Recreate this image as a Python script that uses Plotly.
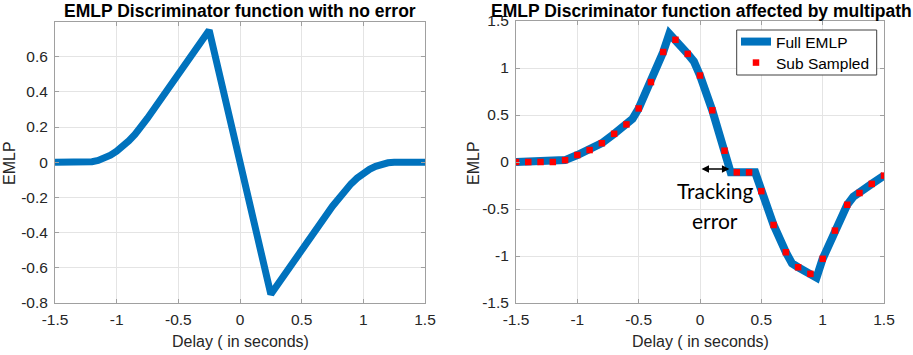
import plotly.graph_objects as go

# ---------------- data ----------------
# Left panel: discriminator with no error
delay_clean = [-1.5, -1.25, -1.2, -1.15, -1.1, -1.05, -1.0, -0.95, -0.9, -0.85, -0.8, -0.75,
               -0.25, 0.25, 0.75, 0.8, 0.85, 0.9, 0.95, 1.0, 1.05, 1.1, 1.15, 1.2, 1.25, 1.5]
emlp_clean = [0.0, 0.0, 0.003, 0.01, 0.023, 0.04, 0.063, 0.09, 0.123, 0.16, 0.203, 0.25,
              0.75, -0.75, -0.25, -0.203, -0.16, -0.123, -0.09, -0.063, -0.04, -0.023, -0.01, -0.003, 0.0, 0.0]

# Right panel: full EMLP affected by multipath
delay_full = [-1.5, -1.2, -1.1, -1.0, -0.9, -0.8, -0.7, -0.6, -0.55, -0.5, -0.4, -0.3, -0.25,
              -0.2, -0.1, -0.05, 0.0, 0.1, 0.2, 0.25, 0.45, 0.5, 0.6, 0.7, 0.75, 0.8, 0.9, 0.95,
              1.0, 1.1, 1.2, 1.25, 1.3, 1.4, 1.5]
emlp_full = [0.0, 0.0, 0.02, 0.074, 0.127, 0.2, 0.3, 0.4, 0.46, 0.57, 0.85, 1.17, 1.365,
             1.30, 1.15, 1.07, 0.92, 0.55, 0.12, -0.11, -0.11, -0.31, -0.67, -0.96, -1.08, -1.12, -1.19, -1.23,
             -1.03, -0.73, -0.455, -0.37, -0.33, -0.233, -0.145]

# Right panel: sub-sampled points
delay_sub = [-1.5, -1.4, -1.3, -1.2, -1.1, -1.0, -0.9, -0.8, -0.7, -0.6, -0.5, -0.4, -0.3, -0.2, -0.1,
             0.0, 0.1, 0.2, 0.3, 0.4, 0.5, 0.6, 0.7, 0.8, 0.9, 1.0, 1.1, 1.2, 1.3, 1.4, 1.5]
emlp_sub = [0.0, 0.0, 0.0, 0.0, 0.02, 0.074, 0.127, 0.2, 0.3, 0.4, 0.57, 0.85, 1.17, 1.30, 1.15,
            0.92, 0.55, 0.12, -0.11, -0.11, -0.31, -0.67, -0.96, -1.12, -1.19, -1.03, -0.73, -0.455, -0.33, -0.233, -0.145]

# tick labels
x_ticks = [-1.5, -1, -0.5, 0, 0.5, 1, 1.5]
x_ticklabels = ["-1.5", "-1", "-0.5", "0", "0.5", "1", "1.5"]
y1_ticks = [-0.8, -0.6, -0.4, -0.2, 0, 0.2, 0.4, 0.6]
y1_ticklabels = ["-0.8", "-0.6", "-0.4", "-0.2", "0", "0.2", "0.4", "0.6"]
y2_ticks = [-1.5, -1, -0.5, 0, 0.5, 1, 1.5]
y2_ticklabels = ["-1.5", "-1", "-0.5", "0", "0.5", "1", "1.5"]

# tracking error arrow (data coords)
arrow_x = [0.0, 0.24]
arrow_y = -0.074

BLUE = "#0072BD"
FONT = "Liberation Sans, Arial, sans-serif"
TICKCOL = "#262626"
AXCOL = "#a0a0a0"
GRIDCOL = "#e4e4e4"

fig = go.Figure()
fig.add_trace(go.Scatter(x=delay_clean, y=emlp_clean, mode="lines",
                         line=dict(color=BLUE, width=7), xaxis="x", yaxis="y", showlegend=False))
fig.add_trace(go.Scatter(x=delay_full, y=emlp_full, mode="lines", name="Full EMLP",
                         line=dict(color=BLUE, width=8), xaxis="x2", yaxis="y2", legend="legend"))
fig.add_trace(go.Scatter(x=delay_sub, y=emlp_sub, mode="markers", name="Sub Sampled",
                         marker=dict(color="#ff0000", size=6.5, symbol="square"), xaxis="x2", yaxis="y2",
                         legend="legend2"))

H = 355.0
W = 913.0
common_axis = dict(showline=True, linecolor=AXCOL, linewidth=1, mirror="ticks", automargin=False,
                   ticks="inside", ticklen=4, tickcolor=AXCOL, showgrid=True, gridcolor=GRIDCOL,
                   gridwidth=1, zeroline=False, tickfont=dict(family=FONT, size=15.5, color=TICKCOL))

leg_common = dict(xanchor="left", yanchor="middle", bgcolor="rgba(0,0,0,0)", borderwidth=0,
                  font=dict(family=FONT, size=15.5, color="#000000"))

fig.update_layout(
    width=913, height=355,
    margin=dict(l=0, r=0, t=0, b=0, pad=0),
    paper_bgcolor="white", plot_bgcolor="white",
    xaxis=dict(domain=[55 / W, 425 / W], range=[-1.5, 1.5], tickvals=x_ticks, ticktext=x_ticklabels,
               anchor="y", ticklabelstandoff=2, **common_axis),
    yaxis=dict(domain=[(H - 303) / H, (H - 21.5) / H], range=[-0.8, 0.8], tickvals=y1_ticks,
               ticktext=y1_ticklabels, anchor="x", ticklabelstandoff=3, **common_axis),
    xaxis2=dict(domain=[516 / W, 884 / W], range=[-1.5, 1.5], tickvals=x_ticks, ticktext=x_ticklabels,
                anchor="y2", ticklabelstandoff=2, **common_axis),
    yaxis2=dict(domain=[(H - 303) / H, (H - 21) / H], range=[-1.5, 1.5], tickvals=y2_ticks,
                ticktext=y2_ticklabels, anchor="x2", ticklabelstandoff=3, **common_axis),
    legend=dict(x=736 / W, y=(H - 42) / H, **leg_common),
    legend2=dict(x=736 / W, y=(H - 63) / H, **leg_common),
    shapes=[dict(type="rect", xref="paper", yref="paper", x0=736.7 / W, x1=876.7 / W,
                 y0=(H - 75) / H, y1=(H - 30) / H, fillcolor="white",
                 line=dict(color="#404040", width=1), layer="above")],
)

ann = []
title_font = dict(family=FONT, size=17.5, color="#000000")
ann.append(dict(text="<b>EMLP Discriminator function with no error</b>", x=240 / W, y=(H - 11) / H,
                xref="paper", yref="paper", showarrow=False, font=title_font, xanchor="center", yanchor="middle"))
ann.append(dict(text="<b>EMLP Discriminator function affected by multipath</b>", x=701 / W, y=(H - 11) / H,
                xref="paper", yref="paper", showarrow=False, font=title_font, xanchor="center", yanchor="middle"))
lab_font = dict(family=FONT, size=16, color=TICKCOL)
for cx in (240, 700):
    ann.append(dict(text="Delay ( in seconds)", x=cx / W, y=(H - 341) / H, xref="paper", yref="paper",
                    showarrow=False, font=lab_font, xanchor="center", yanchor="middle"))
for cx in (9, 473):
    ann.append(dict(text="EMLP", x=cx / W, y=(H - 163) / H, xref="paper", yref="paper", textangle=-90,
                    showarrow=False, font=lab_font, xanchor="center", yanchor="middle"))
# double-headed arrow
ann.append(dict(x=arrow_x[1], y=arrow_y, ax=arrow_x[0], ay=arrow_y, xref="x2", yref="y2",
                axref="x2", ayref="y2", text="", showarrow=True, arrowhead=2, arrowsize=1,
                arrowwidth=1.5, arrowside="end+start", arrowcolor="#000000"))
note_font = dict(family="Lato, sans-serif", size=21, color="#000000")
ann.append(dict(text="Tracking", x=715 / W, y=(H - 191) / H, xref="paper", yref="paper",
                showarrow=False, font=note_font, xanchor="center", yanchor="middle"))
ann.append(dict(text="error", x=715 / W, y=(H - 220) / H, xref="paper", yref="paper",
                showarrow=False, font=note_font, xanchor="center", yanchor="middle"))
fig.update_layout(annotations=ann)

fig.write_html("out.html", config={"displayModeBar": False},
               post_script="document.body.style.margin='0';document.body.style.padding='0';"
                           "document.body.style.overflow='hidden';")
